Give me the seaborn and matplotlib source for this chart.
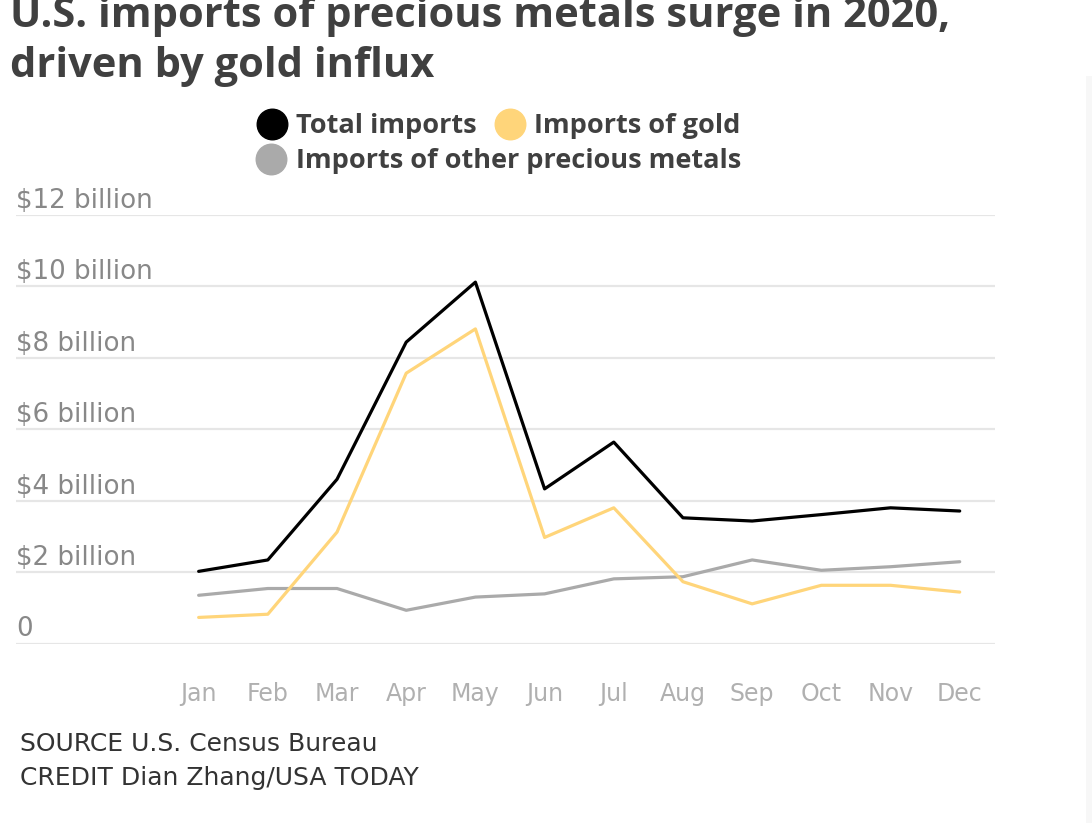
import matplotlib
matplotlib.use('Agg')
import matplotlib.pyplot as plt
from matplotlib.lines import Line2D
from matplotlib.patches import Rectangle
import numpy as np
import pandas as pd
import seaborn as sns

# values in billions of dollars
months = ['Jan', 'Feb', 'Mar', 'Apr', 'May', 'Jun', 'Jul', 'Aug', 'Sep', 'Oct', 'Nov', 'Dec']
total = [2.02, 2.34, 4.60, 8.44, 10.12, 4.33, 5.64, 3.52, 3.43, 3.61, 3.80, 3.71]
gold = [0.73, 0.82, 3.12, 7.57, 8.81, 2.97, 3.80, 1.73, 1.11, 1.63, 1.63, 1.44]
other = [1.35, 1.54, 1.54, 0.93, 1.30, 1.39, 1.81, 1.87, 2.34, 2.05, 2.15, 2.29]
series = ['Total imports', 'Imports of gold', 'Imports of other precious metals']
colors = ['#000000', '#ffd57a', '#aaaaaa']
yticks = [0, 2, 4, 6, 8, 10, 12]
ylabels = ['0', '$2 billion', '$4 billion', '$6 billion', '$8 billion', '$10 billion', '$12 billion']

df = pd.DataFrame({'month': list(range(12)) * 3,
                   'value': total + gold + other,
                   'series': [series[0]] * 12 + [series[1]] * 12 + [series[2]] * 12})

sns.set_style('white')
plt.rcParams['font.family'] = ['Open Sans', 'DejaVu Sans']
body = ['DejaVu Sans']

fig = plt.figure(figsize=(10.92, 8.23), dpi=100)
ax = fig.add_axes([16 / 1092, 1 - 643.5 / 823, 979 / 1092, 428.5 / 823])

sns.lineplot(data=df, x='month', y='value', hue='series', palette=dict(zip(series, colors)),
             hue_order=series[::-1], linewidth=2.3, legend=False, ax=ax)

ax.set_xlim(-2.64, 11.51)
ax.set_ylim(0, 12)
for y in yticks:
    ax.axhline(y, color='#e6e6e6', linewidth=1.6, zorder=0)
    ax.text(0, y + 0.2, ylabels[yticks.index(y)], transform=ax.get_yaxis_transform(),
            ha='left', va='baseline', fontsize=18.8, color='#888888', family=body)
ax.set_yticks([])
ax.set_xticks(range(12))
ax.set_xticklabels(months, fontsize=17, color='#b0b0b0', family=body)
ax.tick_params(axis='x', length=0, pad=28)
ax.set_xlabel('')
ax.set_ylabel('')
sns.despine(ax=ax, left=True, bottom=True)

# title, cut off at the top like the reference
fig.text(10 / 1092, 1 - 27 / 823, 'U.S. imports of precious metals surge in 2020,',
         fontsize=30, fontweight='bold', color='#404040', va='baseline')
fig.text(10 / 1092, 1 - 77 / 823, 'driven by gold influx',
         fontsize=30, fontweight='bold', color='#404040', va='baseline')

# legend in two rows
h = [Line2D([], [], linestyle='none', marker='o', markersize=22, color=c) for c in colors]
leg1 = fig.legend(h[:2], series[:2], loc='center', bbox_to_anchor=(498 / 1092, 1 - 126 / 823), ncol=2,
                  frameon=False, handletextpad=0.3, columnspacing=0.6, handlelength=1.2,
                  prop={'size': 19.5, 'weight': 'bold'})
leg2 = fig.legend(h[2:], series[2:], loc='center', bbox_to_anchor=(498 / 1092, 1 - 161 / 823),
                  frameon=False, handletextpad=0.3, handlelength=1.2,
                  prop={'size': 19.5, 'weight': 'bold'})
for leg in (leg1, leg2):
    for t in leg.get_texts():
        t.set_color('#404040')

fig.text(20 / 1092, 1 - 744 / 823, 'SOURCE U.S. Census Bureau', fontsize=18, color='#333333',
         va='center', family=body)
fig.text(20 / 1092, 1 - 778 / 823, 'CREDIT Dian Zhang/USA TODAY', fontsize=18, color='#333333',
         va='center', family=body)

fig.patches.append(Rectangle((1086 / 1092, 0), 6 / 1092, 1 - 76 / 823, transform=fig.transFigure,
                             facecolor='#f7f7f7', edgecolor='none'))

fig.savefig('out.png', dpi=100)
